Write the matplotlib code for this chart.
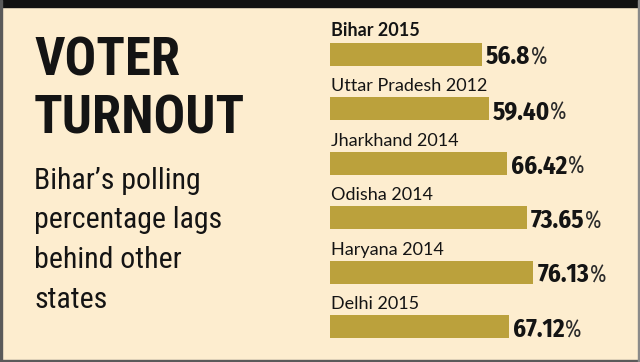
import matplotlib
matplotlib.use("Agg")
import matplotlib.pyplot as plt
from matplotlib.patches import Rectangle
from matplotlib import font_manager as fm

categories = ["Bihar 2015", "Uttar Pradesh 2012", "Jharkhand 2014",
              "Odisha 2014", "Haryana 2014", "Delhi 2015"]
turnout = [56.8, 59.40, 66.42, 73.65, 76.13, 67.12]
value_labels = ["56.8", "59.40", "66.42", "73.65", "76.13", "67.12"]

_avail = {f.name for f in fm.fontManager.ttflist}


def pick(*names):
    fams = [n for n in names if n in _avail]
    return fams[:1] + ["DejaVu Sans"]


BG = "#FDEDCF"
BAR = "#BBA13C"
INK = "#141414"
TITLE = pick("Roboto Condensed", "Archivo Narrow", "Barlow Condensed")
SUB = pick("Roboto Condensed", "Archivo Narrow", "Barlow Condensed")
LABEL = pick("Lato", "Fira Sans")
VALUE = pick("Fira Sans Condensed", "Roboto Condensed", "Barlow Condensed")
PCT = pick("Fira Sans Extra Condensed", "Fira Sans Condensed", "Roboto Condensed")

W, H = 640, 362
fig = plt.figure(figsize=(6.4, 3.62), dpi=100, facecolor=BG)

# frame: top black band and thin gray border
fig.patches.append(Rectangle((0, 1 - 7 / H), 1, 7 / H, transform=fig.transFigure,
                             color="#111111", zorder=0))
fig.patches.append(Rectangle((0, 0), 2 / W, 1, transform=fig.transFigure,
                             color="#5a5a5a", zorder=0))
fig.patches.append(Rectangle((0, 0), 1, 2 / H, transform=fig.transFigure,
                             color="#5a5a5a", zorder=0))
fig.patches.append(Rectangle((1 - 2 / W, 0), 2 / W, 1, transform=fig.transFigure,
                             color="#8a8a8a", zorder=0))

# title and subtitle
fig.text(34 / W, 1 - 75 / H, "VOTER", family=TITLE, weight="bold",
         fontsize=38, color=INK, va="baseline", ha="left")
fig.text(34 / W, 1 - 133 / H, "TURNOUT", family=TITLE, weight="bold",
         fontsize=38, color=INK, va="baseline", ha="left")
sub_lines = ["Bihar\u2019s polling", "percentage lags", "behind other", "states"]
for k, line in enumerate(sub_lines):
    fig.text(34 / W, 1 - (189 + 39.5 * k) / H, line, family=SUB,
             fontsize=21.5, color=INK, va="baseline", ha="left")

# bar axes: x=0 at px 330, x=100 at px 597; bar i centred at px 54 + 54.5*i
x0, x100 = 330, 597
ax = fig.add_axes([x0 / W, 0, (x100 - x0) / W, 1])
ax.set_xlim(0, 100)
step, first = 54.5, 54
ax.set_ylim((H - first) / step, -first / step)
ax.axis("off")
ax.patch.set_alpha(0)

ypos = list(range(len(categories)))
ax.barh(ypos, turnout, height=23 / step, color=BAR, left=0)

for i, (cat, v, lab) in enumerate(zip(categories, turnout, value_labels)):
    ax.annotate(cat, xy=(0, i), xytext=(1, 17.5), textcoords="offset pixels",
                family=LABEL, fontsize=13, color=INK, ha="left", va="baseline",
                weight="bold" if i == 0 else "normal")
    t = ax.annotate(lab, xy=(v, i), xytext=(4, -10.5), textcoords="offset pixels",
                    family=VALUE, weight="bold", fontsize=18, color=INK,
                    ha="left", va="baseline")
    ax.annotate("%", xy=(1, 0), xycoords=t, xytext=(0.5, 0),
                textcoords="offset pixels", family=PCT, fontsize=17,
                color="#2a2a2a", ha="left", va="bottom")

fig.savefig("out.png", dpi=100, facecolor=BG)
